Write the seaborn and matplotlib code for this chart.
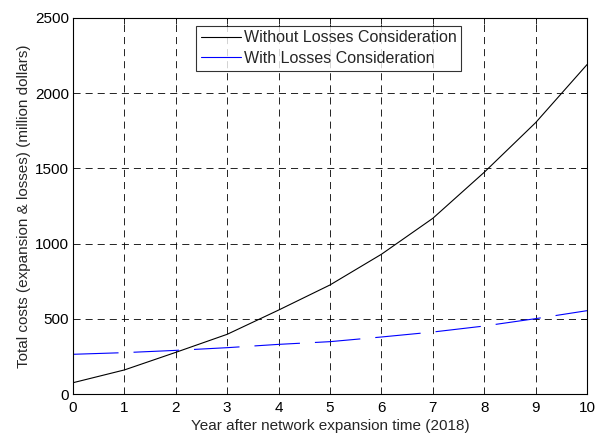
import matplotlib
matplotlib.use("Agg")
import matplotlib.pyplot as plt
import seaborn as sns
import pandas as pd

years = [0, 1, 2, 3, 4, 5, 6, 7, 8, 9, 10]
without_losses = [75, 160, 277, 397, 558, 725, 929, 1168, 1474, 1804, 2190]
with_losses = [264, 275, 290, 308, 330, 348, 379, 412, 452, 501, 554]
labels = ["Without Losses Consideration", "With Losses Consideration"]

sns.set_theme(style="white")
plt.rcParams['font.family'] = ['Liberation Sans', 'DejaVu Sans']

df = pd.DataFrame({"year": years, "without": without_losses, "with": with_losses})

fig = plt.figure(figsize=(5.98, 4.34), dpi=100)
ax = fig.add_axes([73/598, 1 - 394/434, (587-73)/598, (394-18)/434])

sns.lineplot(data=df, x="year", y="without", ax=ax, color="black", lw=0.8, label=labels[0])
sns.lineplot(data=df, x="year", y="with", ax=ax, color="blue", lw=0.8, label=labels[1],
             dashes=False)
ax.lines[1].set_dashes((41, 13.5))

ax.set_xlim(0, 10)
ax.set_ylim(0, 2500)
ax.set_xticks(range(0, 11))
ax.set_yticks(range(0, 2501, 500))
ax.grid(True, color="black", ls=(0, (8.5, 6)), lw=0.6)
ax.tick_params(direction="in", top=True, right=True, length=4, width=0.6,
               labelsize=11, colors="black", pad=3)
ax.tick_params(axis="x", pad=5)
for s in ax.spines.values():
    s.set_color("black")
    s.set_linewidth(0.8)
ax.set_xlabel("Year after network expansion time (2018)", fontsize=11, labelpad=3)
ax.set_ylabel("Total costs (expansion & losses) (million dollars)", fontsize=11, labelpad=3)

leg = ax.legend(loc="upper left", bbox_to_anchor=(123/514, 0.98), frameon=True, fancybox=False,
                fontsize=11.5, handlelength=2.5, handletextpad=0.2, borderpad=0.3,
                labelspacing=0.35, borderaxespad=0.0)
leg.get_frame().set_edgecolor("black")
leg.get_frame().set_linewidth(0.8)
leg.get_lines()[1].set_dashes((None, None))
leg.get_lines()[1].set_linestyle("-")

fig.savefig("out.png", dpi=100, facecolor="white")
